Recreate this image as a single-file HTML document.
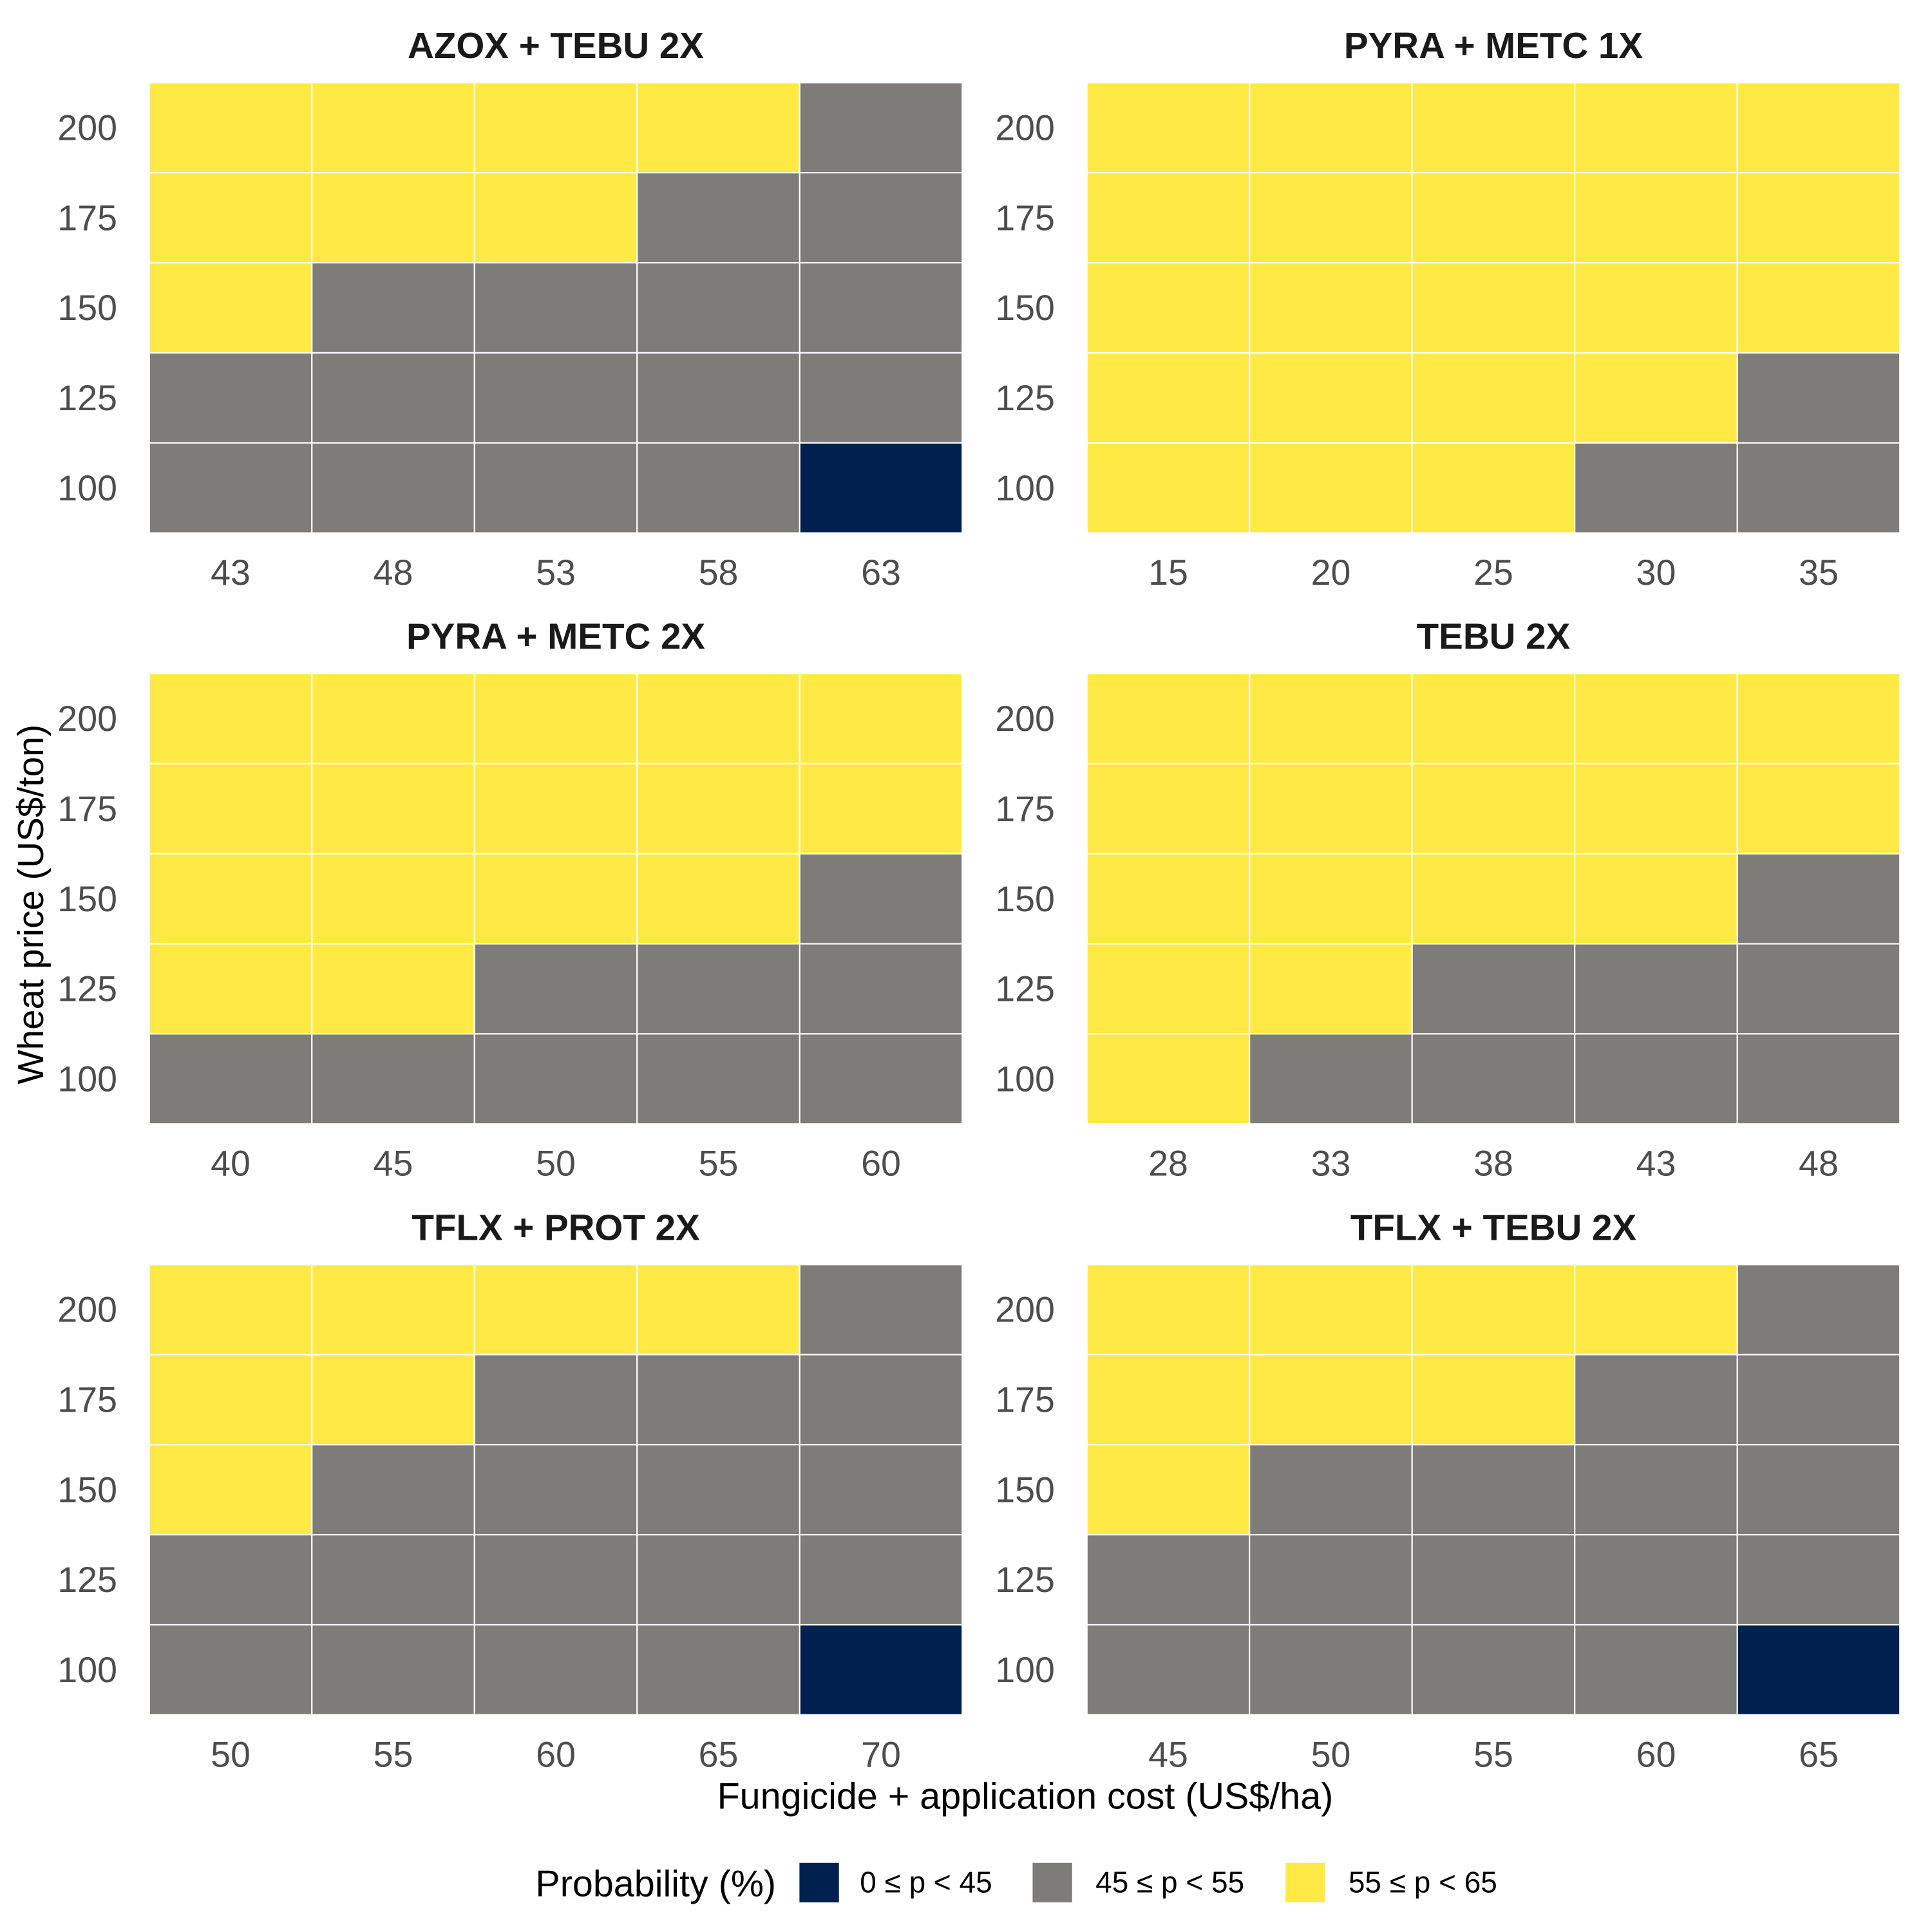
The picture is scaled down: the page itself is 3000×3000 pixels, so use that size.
<!DOCTYPE html>
<html><head><meta charset="utf-8"><style>
html,body{margin:0;padding:0;background:#fff}
svg{display:block}
text{font-family:"Liberation Sans",Arial,sans-serif}
</style></head><body>
<svg id="chart" width="3000" height="3000" viewBox="0 0 1566 1566" xmlns="http://www.w3.org/2000/svg">
<text x="0" y="0" transform="translate(35,733) rotate(-90)" text-anchor="middle" font-size="29.5" fill="#000">Wheat price (US$/ton)</text>
<text x="831" y="1466" text-anchor="middle" font-size="30" fill="#000">Fungicide + application cost (US$/ha)</text>
<g>
<text x="434" y="1537" font-size="30" fill="#000">Probability (%)</text>
<rect x="648" y="1510" width="32" height="32" fill="#00204D"/>
<text x="697" y="1534" font-size="24" fill="#000">0 ≤ p &lt; 45</text>
<rect x="837" y="1510" width="32" height="32" fill="#7D7C78"/>
<text x="888" y="1534" font-size="24" fill="#000">45 ≤ p &lt; 55</text>
<rect x="1042" y="1510" width="32" height="32" fill="#FFE945"/>
<text x="1093" y="1534" font-size="24" fill="#000">55 ≤ p &lt; 65</text>
</g>
</svg>
<script>
const panelTitles = ["AZOX + TEBU 2X","PYRA + METC 1X","PYRA + METC 2X","TEBU 2X","TFLX + PROT 2X","TFLX + TEBU 2X"];
const priceLabels = [200,175,150,125,100];
const costLabels = [[43,48,53,58,63],[15,20,25,30,35],[40,45,50,55,60],[28,33,38,43,48],[50,55,60,65,70],[45,50,55,60,65]];
const catColors = ["#00204D","#7D7C78","#FFE945"];
const catNames = ["low","mid","high"];
const azoxTebu = [[2,2,2,2,1],[2,2,2,1,1],[2,1,1,1,1],[1,1,1,1,1],[1,1,1,1,0]];
const pyraMetc1 = [[2,2,2,2,2],[2,2,2,2,2],[2,2,2,2,2],[2,2,2,2,1],[2,2,2,1,1]];
const pyraMetc2 = [[2,2,2,2,2],[2,2,2,2,2],[2,2,2,2,1],[2,2,1,1,1],[1,1,1,1,1]];
const tebu2 = [[2,2,2,2,2],[2,2,2,2,2],[2,2,2,2,1],[2,2,1,1,1],[2,1,1,1,1]];
const tflxProt = [[2,2,2,2,1],[2,2,1,1,1],[2,1,1,1,1],[1,1,1,1,1],[1,1,1,1,0]];
const tflxTebu = [[2,2,2,2,1],[2,2,2,1,1],[2,1,1,1,1],[1,1,1,1,1],[1,1,1,1,0]];
const panelData = [azoxTebu,pyraMetc1,pyraMetc2,tebu2,tflxProt,tflxTebu];

const svg = document.getElementById('chart');
const NS = 'http://www.w3.org/2000/svg';
const colX = [121,881], rowY = [67,546,1025], PW = 659, PH = 365;
function mk(tag, attrs){const e=document.createElementNS(NS,tag);for(const k in attrs)e.setAttribute(k,attrs[k]);return e;}
panelData.forEach((grid,p)=>{
  const x0 = colX[p%2], y0 = rowY[Math.floor(p/2)];
  const nC = costLabels[p].length, nR = priceLabels.length;
  const cw = PW/nC, ch = PH/nR;
  const xs = i => x0 + i*cw;
  const ys = j => y0 + j*ch;
  const g = mk('g',{});
  
  
  svg.appendChild(g);
  const t = mk('text',{x:x0+PW/2,y:y0-20,'text-anchor':'middle','font-size':'29.5','font-weight':'bold',fill:'#1a1a1a'});
  t.textContent = panelTitles[p];
  
  
  g.appendChild(t);
  grid.forEach((row,j)=>row.forEach((v,i)=>{
    const r = mk('rect',{x:xs(i),y:ys(j),width:cw,height:ch,fill:catColors[v],stroke:'#fff','stroke-width':'1.1'});
    
    
    g.appendChild(r);
  }));
  priceLabels.forEach((lab,j)=>{
    const tt = mk('text',{x:x0-26,y:ys(j)+ch/2+10,'text-anchor':'end','font-size':'29',fill:'#4d4d4d'});
    tt.textContent = lab;
    
    
    g.appendChild(tt);
  });
  costLabels[p].forEach((lab,i)=>{
    const tt = mk('text',{x:xs(i)+cw/2,y:y0+PH+42,'text-anchor':'middle','font-size':'29',fill:'#4d4d4d'});
    tt.textContent = lab;
    
    
    g.appendChild(tt);
  });
});
</script>
</body></html>
